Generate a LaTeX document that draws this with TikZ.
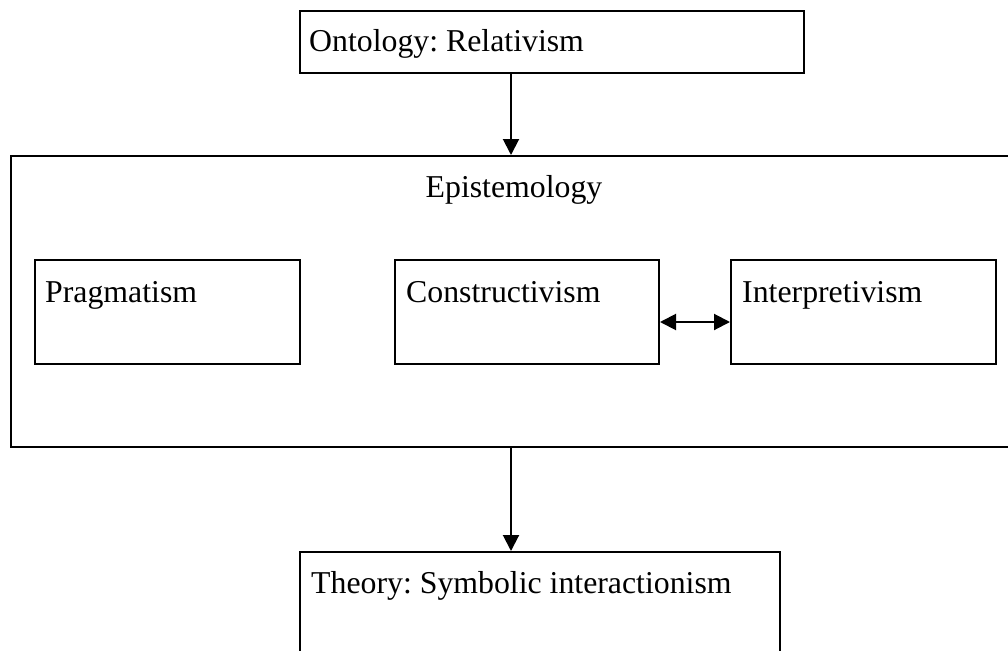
\documentclass[tikz,border=0pt]{standalone}
\usepackage{fontspec}
\setmainfont{Liberation Serif}
\usetikzlibrary{arrows.meta,calc}
\frenchspacing
\begin{document}
\begin{tikzpicture}[x=1pt,y=-1pt,
  frame/.style={draw=black,line width=2pt,anchor=north west,inner sep=0pt},
  txt/.style={anchor=base west,inner sep=0pt,font=\fontsize{31.8}{38}\selectfont},
  arr/.style={line width=2pt,-{Triangle[length=16pt,width=16pt]}},
  darr/.style={line width=2pt,{Triangle[length=16pt,width=16pt]}-{Triangle[length=16pt,width=16pt]}}]
\useasboundingbox (0,0) rectangle (1008,650);

% boxes
\node[frame,minimum width=504pt,minimum height=62pt] (ont) at (299,10) {};
\node[frame,minimum width=1010pt,minimum height=291pt] (epi) at (10,155) {};
\node[frame,minimum width=265pt,minimum height=104pt] (prag) at (34,259) {};
\node[frame,minimum width=264pt,minimum height=104pt] (cons) at (394,259) {};
\node[frame,minimum width=265pt,minimum height=104pt] (interp) at (730,259) {};
\node[frame,minimum width=480pt,minimum height=130pt] (theory) at (299,551) {};

% labels
\node[txt] (ontt) at ($(ont.north west)+(10,42)$) {Ontology: Relativism};
\node[txt,anchor=base] (epit) at (514,197) {Epistemology};
\node[txt] (pragt) at ($(prag.north west)+(11,43)$) {Pragmatism};
\node[txt] (const) at ($(cons.north west)+(12,43)$) {Constructivism};
\node[txt] (interpt) at ($(interp.north west)+(12,43)$) {Interpretivism};
\node[txt] (theoryt) at ($(theory.north west)+(12,42)$) {Theory: Symbolic interactionism};

% connectors
\coordinate (ax) at (511,0);
\coordinate (ay) at (0,322);
\draw[arr] (ont.south -| ax) -- (epi.north -| ax);
\draw[arr] (epi.south -| ax) -- (theory.north -| ax);
\draw[darr] (cons.east |- ay) -- (interp.west |- ay);
\end{tikzpicture}
\end{document}
